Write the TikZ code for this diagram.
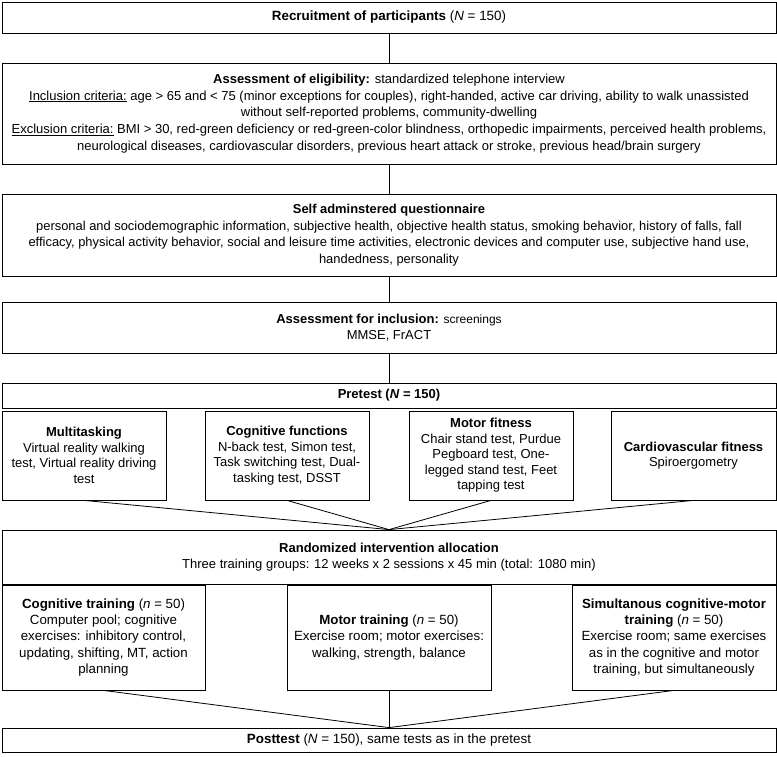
\documentclass[tikz,border=0pt]{standalone}
\usepackage{fontspec}
\setmainfont{Liberation Sans}
\begin{document}
\begin{tikzpicture}[x=1pt,y=-1pt,
  box/.style={draw=black, line width=0.8pt, inner sep=0pt, align=center, fill=white},
  ln/.style={draw=black, line width=0.8pt},
  ft/.style={font=\fontsize{13.4}{16}\selectfont},
  fe/.style={font=\fontsize{13}{16.8}\selectfont},
  fq/.style={font=\fontsize{12.9}{16.5}\selectfont},
  fs/.style={font=\fontsize{13}{15.5}\selectfont},
  fr/.style={font=\fontsize{13.3}{16.3}\selectfont}]
\useasboundingbox (0,0) rectangle (777,757);

\node[box,ft,minimum width=774pt,minimum height=31pt] (rec) at (389,17.5)
  {\textbf{Recruitment of participants} (\textit{N} = 150)};

\node[box,fe,minimum width=774pt,minimum height=101pt] (elig) at (389,113.5)
  {\textbf{Assessment of eligibility:} standardized telephone interview\\
   \underline{Inclusion criteria:} age > 65 and < 75 (minor exceptions for couples), right-handed, active car driving, ability to walk unassisted\\
   without self-reported problems, community-dwelling\\
   \underline{Exclusion criteria:} BMI > 30, red-green deficiency or red-green-color blindness, orthopedic impairments, perceived health problems,\\
   neurological diseases, cardiovascular disorders, previous heart attack or stroke, previous head/brain surgery};

\node[box,fq,minimum width=774pt,minimum height=82pt] (quest) at (389,235)
  {\textbf{Self adminstered questionnaire}\\
   personal and sociodemographic information, subjective health, objective health status, smoking behavior, history of falls, fall\\
   efficacy, physical activity behavior, social and leisure time activities, electronic devices and computer use, subjective hand use,\\
   handedness, personality};

\node[box,fs,minimum width=774pt,minimum height=51pt] (assess) at (389,327.5)
  {\textbf{Assessment for inclusion:} {\fontsize{12}{15.5}\selectfont screenings}\\ MMSE, FrACT};

\node[box,fs,minimum width=774pt,minimum height=25pt] (pre) at (389,395.5)
  {\textbf{Pretest (\textit{N} = 150)}};

\node[box,fs,minimum width=164pt,minimum height=89pt] (multi) at (84,455.5)
  {\textbf{Multitasking}\\ Virtual reality walking\\ test, Virtual reality driving\\ test};
\node[box,fs,minimum width=164pt,minimum height=89pt] (cogf) at (287,455.5)
  {\textbf{Cognitive functions}\\ N-back test, Simon test,\\ Task switching test, Dual-\\ tasking test, DSST};
\node[box,fs,minimum width=164pt,minimum height=89pt] (motf) at (491,455.5)
  {\textbf{Motor fitness}\\ Chair stand test, Purdue\\ Pegboard test, One-\\ legged stand test, Feet\\ tapping test};
\node[box,fs,minimum width=165pt,minimum height=89pt] (card) at (693.5,455.5)
  {\textbf{Cardiovascular fitness}\\ Spiroergometry};

\node[box,fs,minimum width=774pt,minimum height=54pt] (rand) at (389,557)
  {\textbf{Randomized intervention allocation}\\ Three training groups: 12 weeks x 2 sessions x 45 min (total: 1080 min)};

\node[box,fr,minimum width=203pt,minimum height=105pt] (cogt) at (103.5,637.5)
  {\textbf{Cognitive training} (\textit{n} = 50)\\ Computer pool; cognitive\\ exercises: inhibitory control,\\ updating, shifting, MT, action\\ planning};
\node[box,fr,minimum width=204pt,minimum height=105pt] (mott) at (389,637.5)
  {\textbf{Motor training} (\textit{n} = 50)\\ Exercise room; motor exercises:\\ walking, strength, balance};
\node[box,fr,minimum width=204pt,minimum height=105pt] (simt) at (674,637.5)
  {\textbf{Simultanous cognitive-motor}\\ \textbf{training} (\textit{n} = 50)\\ Exercise room; same exercises\\ as in the cognitive and motor\\ training, but simultaneously};

\node[box,ft,minimum width=774pt,minimum height=24pt] (post) at (389,740)
  {\textbf{Posttest} (\textit{N} = 150), same tests as in the pretest};

\draw[ln] (rec.south) -- (elig.north);
\draw[ln] (elig.south) -- (quest.north);
\draw[ln] (quest.south) -- (assess.north);
\draw[ln] (assess.south) -- (pre.north);
\draw[ln] (multi.south) -- (rand.north);
\draw[ln] (cogf.south) -- (rand.north);
\draw[ln] (motf.south) -- (rand.north);
\draw[ln] (card.south) -- (rand.north);
\draw[ln] (cogt.south) -- (post.north);
\draw[ln] (mott.south) -- (post.north);
\draw[ln] (simt.south) -- (post.north);
\end{tikzpicture}
\end{document}
